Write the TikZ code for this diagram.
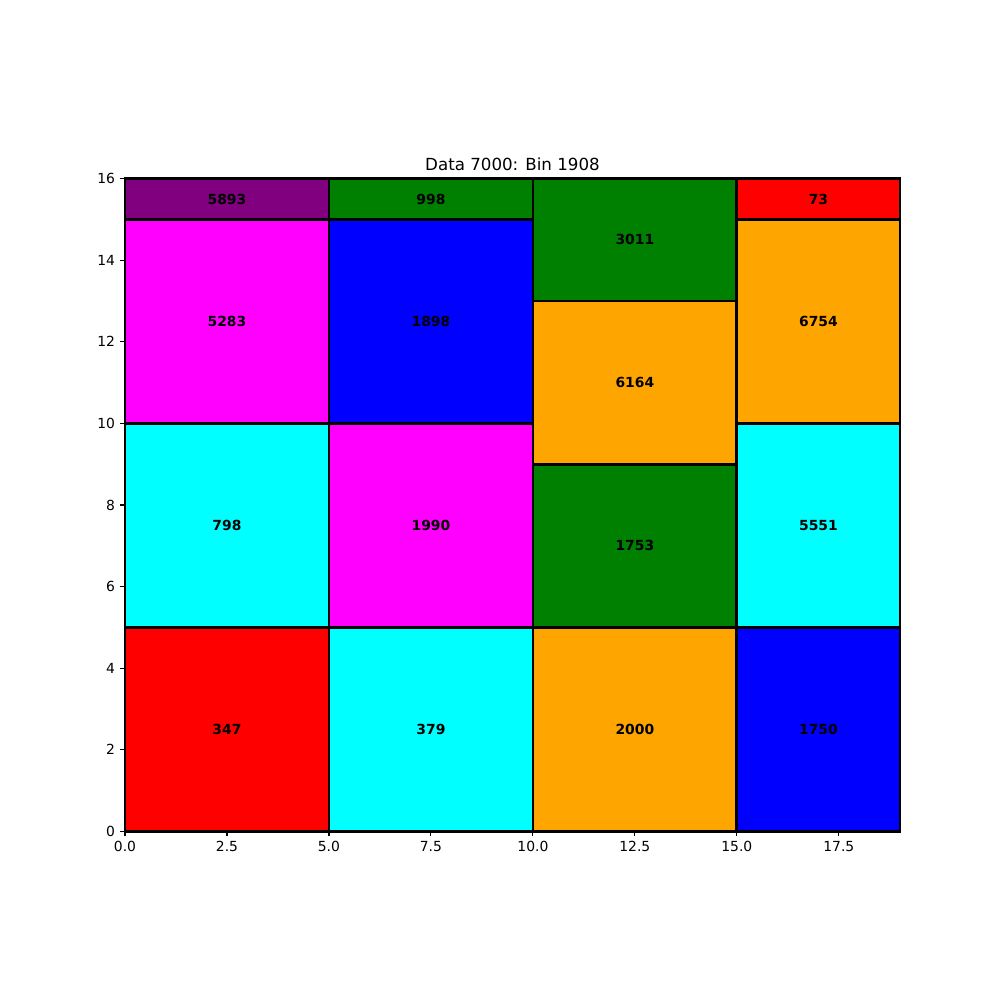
\documentclass[tikz,border=0pt]{standalone}
\usepackage{fontspec}
\setmainfont{DejaVu Sans}
\definecolor{mred}{HTML}{FF0000}
\definecolor{mcyan}{HTML}{00FFFF}
\definecolor{mmag}{HTML}{FF00FF}
\definecolor{mpurple}{HTML}{800080}
\definecolor{mgreen}{HTML}{008000}
\definecolor{mblue}{HTML}{0000FF}
\definecolor{morange}{HTML}{FFA500}
\begin{document}
\begin{tikzpicture}[x=29.368pt,y=29.368pt,
  binbox/.style={draw=black,line width=2pt},
  binlabel/.style={font=\fontsize{10}{12}\selectfont\bfseries,inner sep=0pt},
  ticklabel/.style={font=\fontsize{10}{12}\selectfont,inner sep=0pt},
  tickmark/.style={line width=0.8pt}]
\useasboundingbox (-90pt,-121.46pt) rectangle (630pt,598.54pt);
% rectangles: x1,y1,x2,y2,color,label,name
\foreach \a/\b/\c/\d/\col/\lab/\nm in {
  0/0/5/5/mred/347/r1, 0/5/5/10/mcyan/798/r2, 0/10/5/15/mmag/5283/r3, 0/15/5/16/mpurple/5893/r4,
  5/0/10/5/mcyan/379/r5, 5/5/10/10/mmag/1990/r6, 5/10/10/15/mblue/1898/r7, 5/15/10/16/mgreen/998/r8,
  10/0/15/5/morange/2000/r9, 10/5/15/9/mgreen/1753/r10, 10/9/15/13/morange/6164/r11, 10/13/15/16/mgreen/3011/r12,
  15/0/19/5/mblue/1750/r13, 15/5/19/10/mcyan/5551/r14, 15/10/19/15/morange/6754/r15, 15/15/19/16/mred/73/r16}
{
  \draw[binbox,fill=\col] (\a,\b) rectangle (\c,\d);
  \node[binlabel] (\nm) at ({(\a+\c)/2},{(\b+\d)/2}) {\lab};
}
\draw[line width=0.8pt] (0,0) rectangle (19,16);
% x ticks
\foreach \x/\l [count=\i] in {0/0.0,2.5/2.5,5/5.0,7.5/7.5,10/10.0,12.5/12.5,15/15.0,17.5/17.5}
{
  \draw[tickmark] (\x,0) -- ++(0,-3.5pt);
  \node[ticklabel,anchor=north] (xt\i) at ([yshift=-7pt]\x,0) {\l};
}
% y ticks
\foreach \y [count=\i] in {0,2,4,6,8,10,12,14,16}
{
  \draw[tickmark] (0,\y) -- ++(-3.5pt,0);
  \node[ticklabel,anchor=east] (yt\i) at ([xshift=-7pt]0,\y) {\y};
}
\node[font=\fontsize{12}{14}\selectfont,inner sep=0pt,anchor=base] (title) at ([yshift=6pt]9.5,16) {Data 7000: Bin 1908};
\end{tikzpicture}
\end{document}
